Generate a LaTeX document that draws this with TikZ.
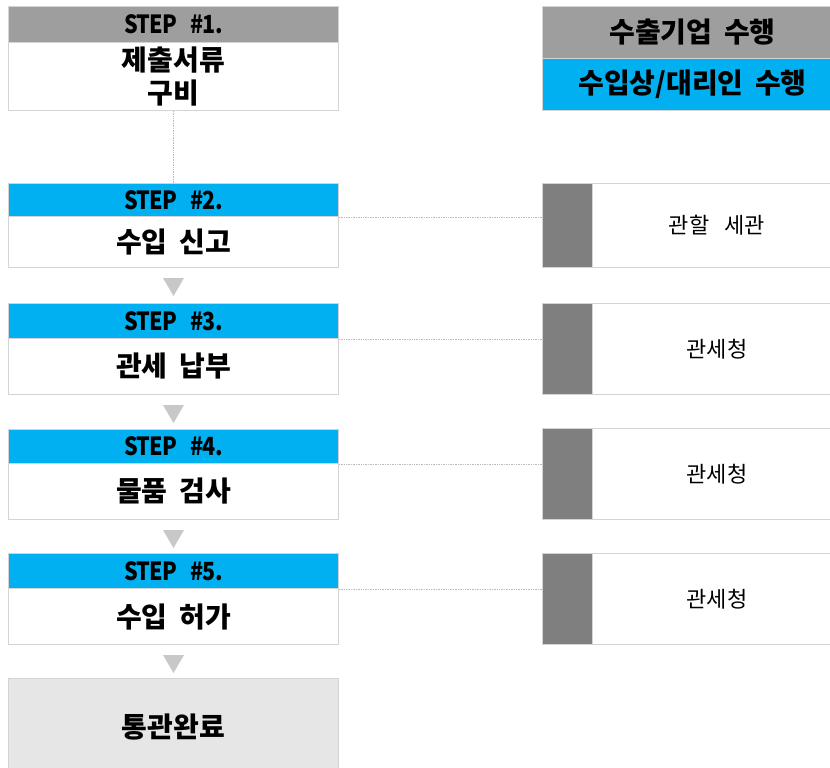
\documentclass[tikz,border=0pt]{standalone}
\usepackage{fontspec}
\setmainfont{Noto Sans CJK KR}[WordSpace=1.8]
\newfontfamily\stepfont{Noto Sans CJK KR}[WordSpace=3.2,FakeStretch=0.86,LetterSpace=-3]
\usetikzlibrary{calc}
\definecolor{hdrblue}{HTML}{00B0F0}
\definecolor{hdrgray}{HTML}{9E9E9E}
\definecolor{stripe}{HTML}{7F7F7F}
\definecolor{edge}{HTML}{D4D4D4}
\definecolor{donefill}{HTML}{E6E6E6}
\definecolor{tri}{HTML}{C8C8C8}
\definecolor{dots}{HTML}{BBBBBB}
\begin{document}
\begin{tikzpicture}[x=1pt,y=-1pt,
  box/.style={draw=edge, line width=1pt, inner sep=0pt, anchor=north west, align=center},
  hdr/.style={box, fill=hdrblue, minimum width=330pt, font=\stepfont\bfseries\fontsize{25}{28}\selectfont},
  body/.style={box, fill=white, minimum width=330pt, font=\bfseries\fontsize{28}{33}\selectfont},
  done/.style={box, fill=donefill, minimum width=330pt, font=\bfseries\fontsize{28}{33}\selectfont},
  legend/.style={box, minimum width=300pt, minimum height=52pt, font=\bfseries\fontsize{28}{32}\selectfont},
  agent/.style={box, fill=white, minimum width=300pt},
  stripebox/.style={box, fill=stripe, minimum width=50pt},
  agenttext/.style={font=\fontsize{22}{24}\selectfont, inner sep=0pt},
  dotline/.style={draw=dots, densely dotted, line width=0.7pt},
  tri/.style={fill=tri}
]
\useasboundingbox (0,0) rectangle (830,768);
\clip (0,0) rectangle (830,768);
\fill[white] (0,0) rectangle (830,768);

% legend
\node[legend, fill=hdrgray] (lg1) at (542,6) {수출기업 수행};
\node[legend, fill=hdrblue] (lg2) at (542,58) {수입상/대리인 수행};

% step 1
\node[hdr, fill=hdrgray, minimum height=36pt] (h1) at (8,6) {STEP \#1.};
\node[body, minimum height=68pt] (b1) at (8,42) {제출서류\\구비};

% step 2
\node[hdr, minimum height=33pt] (h2) at (8,183) {STEP \#2.};
\node[body, minimum height=51pt] (b2) at (8,216) {수입 신고};

% step 3
\node[hdr, minimum height=35pt] (h3) at (8,303) {STEP \#3.};
\node[body, minimum height=56pt] (b3) at (8,338) {관세 납부};

% step 4
\node[hdr, minimum height=34pt] (h4) at (8,429) {STEP \#4.};
\node[body, minimum height=56pt] (b4) at (8,463) {물품 검사};

% step 5
\node[hdr, minimum height=35pt] (h5) at (8,553) {STEP \#5.};
\node[body, minimum height=56pt] (b5) at (8,588) {수입 허가};

% done
\node[done, minimum height=98pt] (fin) at (8,678) {통관완료};

% agents
\node[agent, minimum height=84pt] (r2) at (542,183) {};
\node[stripebox, minimum height=84pt] (s2) at (542,183) {};
\node[agenttext] (t2) at ($(r2.west)+(175,0)$) {관할\hspace{0.7em}세관};

\node[agent, minimum height=91pt] (r3) at (542,303) {};
\node[stripebox, minimum height=91pt] (s3) at (542,303) {};
\node[agenttext] (t3) at ($(r3.west)+(175,0)$) {관세청};

\node[agent, minimum height=91pt] (r4) at (542,428) {};
\node[stripebox, minimum height=91pt] (s4) at (542,428) {};
\node[agenttext] (t4) at ($(r4.west)+(175,0)$) {관세청};

\node[agent, minimum height=91pt] (r5) at (542,553) {};
\node[stripebox, minimum height=91pt] (s5) at (542,553) {};
\node[agenttext] (t5) at ($(r5.west)+(175,0)$) {관세청};

% connectors
\draw[dotline] (b1.south) -- (h2.north);
\draw[dotline] (h2.south east) -- (h2.south east -| s2.west);
\draw[dotline] (h3.south east) -- (h3.south east -| s3.west);
\draw[dotline] (h4.south east) -- (h4.south east -| s4.west);
\draw[dotline] (h5.south east) -- (h5.south east -| s5.west);

% arrow triangles
\foreach \b in {b2,b3,b4,b5}{
  \fill[tri] ($(\b.south)+(-10.5,10)$) -- ($(\b.south)+(10.5,10)$) -- ($(\b.south)+(0,28)$) -- cycle;
}
\end{tikzpicture}
\end{document}
